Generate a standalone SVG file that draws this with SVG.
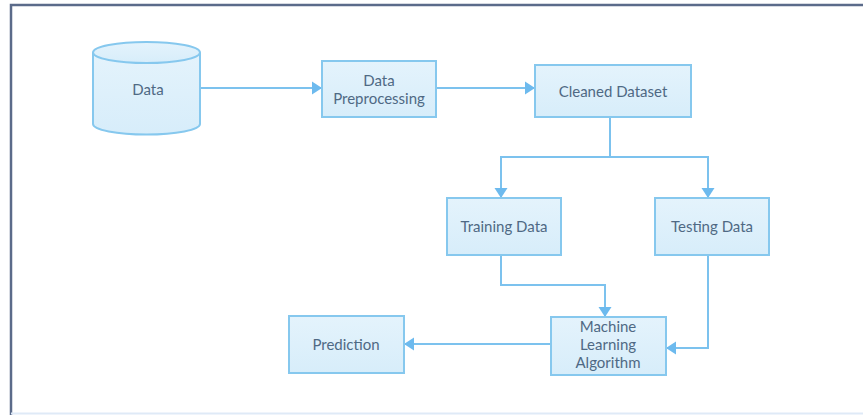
<svg xmlns="http://www.w3.org/2000/svg" width="863" height="415" viewBox="0 0 863 415">
  <defs>
    <style>
      .box { fill: url(#boxfill); stroke: #86c8ee; stroke-width: 2; }
      .lbl { font-family: Lato, "Liberation Sans", sans-serif; font-size: 15px; fill: #4f6984; text-anchor: middle; }
      .con { fill: none; stroke: #7cc2ee; stroke-width: 2; }
    </style>
    <linearGradient id="boxfill" x1="0" y1="0" x2="0" y2="1">
      <stop offset="0" stop-color="#e4f3fc"/>
      <stop offset="1" stop-color="#d7edfa"/>
    </linearGradient>
    <marker id="arr" markerUnits="userSpaceOnUse" markerWidth="12" markerHeight="14" refX="10" refY="7" orient="auto">
      <path d="M0,0.5 L10,7 L0,13.5 z" fill="#6dbaee"/>
    </marker>
  </defs>
  <rect width="863" height="415" fill="#ffffff"/>
  <g id="frame">
    <path d="M11,415 V5 H863" fill="none" stroke="#5b6b8a" stroke-width="2.5"/>
    <line x1="11" y1="413.5" x2="863" y2="413.5" stroke="#dfeaf7" stroke-width="2"/>
  </g>
  <g id="connectors">
    <path class="con" d="M200,88 H322" marker-end="url(#arr)"/>
    <path class="con" d="M436,88 H535" marker-end="url(#arr)"/>
    <path class="con" d="M610,117 V157"/>
    <path class="con" d="M610,157 H501 V198" marker-end="url(#arr)"/>
    <path class="con" d="M610,157 H708 V198" marker-end="url(#arr)"/>
    <path class="con" d="M501,255 V285 H605 V317" marker-end="url(#arr)"/>
    <path class="con" d="M708,255 V348 H666" marker-end="url(#arr)"/>
    <path class="con" d="M551,344 H404" marker-end="url(#arr)"/>
  </g>
  <g id="data">
    <path class="box" d="M93,52.5 V124 A53.5,10.5 0 0 0 200,124 V52.5"/>
    <ellipse class="box" cx="146.5" cy="52.5" rx="53.5" ry="10.5"/>
    <text class="lbl" x="148" y="94.5">Data</text>
  </g>
  <g id="preprocessing">
    <rect class="box" x="322" y="61" width="114" height="56"/>
    <text class="lbl" x="379" y="86">Data</text>
    <text class="lbl" x="379" y="104">Preprocessing</text>
  </g>
  <g id="cleaned">
    <rect class="box" x="535" y="65" width="156" height="52"/>
    <text class="lbl" x="613" y="96.5">Cleaned Dataset</text>
  </g>
  <g id="training">
    <rect class="box" x="447" y="198" width="114" height="57"/>
    <text class="lbl" x="504" y="232">Training Data</text>
  </g>
  <g id="testing">
    <rect class="box" x="655" y="198" width="114" height="57"/>
    <text class="lbl" x="712" y="232">Testing Data</text>
  </g>
  <g id="ml">
    <rect class="box" x="551" y="317" width="115" height="58"/>
    <text class="lbl" x="608" y="332">Machine</text>
    <text class="lbl" x="608" y="350">Learning</text>
    <text class="lbl" x="608" y="368">Algorithm</text>
  </g>
  <g id="prediction">
    <rect class="box" x="289" y="316" width="115" height="57"/>
    <text class="lbl" x="346" y="350">Prediction</text>
  </g>
</svg>
